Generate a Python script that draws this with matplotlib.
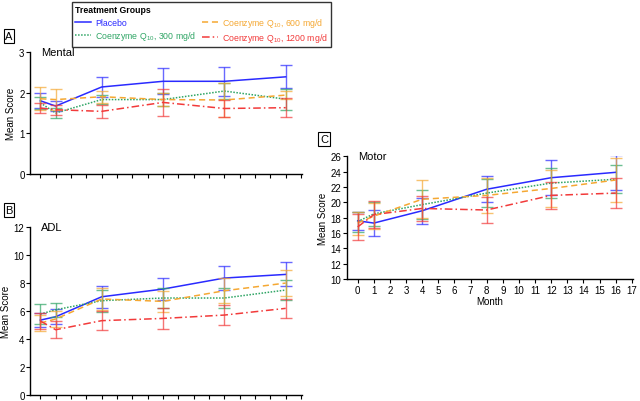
import numpy as np
from matplotlib import pyplot as plt

plt.rcParams['font.family'] = ['Liberation Sans Narrow', 'Liberation Sans', 'DejaVu Sans']
plt.rcParams['mathtext.fontset'] = 'custom'
plt.rcParams['mathtext.rm'] = 'Liberation Sans'
plt.rcParams['mathtext.default'] = 'regular'

months = [0, 1, 4, 8, 12, 16]
groups = ['Placebo', 'Coenzyme Q$_{10}$, 300 mg/d',
          'Coenzyme Q$_{10}$, 600 mg/d', 'Coenzyme Q$_{10}$, 1200 mg/d']
colors = ['#2a2aff', '#2fa565', '#f5a833', '#f23a3a']
styles = ['-', (0, (1, 1)), (0, (4, 2.5)), (0, (5, 2, 1, 2))]

# mean scores (placebo, 300, 600, 1200)
mental = [[1.80, 1.67, 2.14, 2.28, 2.28, 2.39],
          [1.75, 1.50, 1.83, 1.83, 2.04, 1.84],
          [1.85, 1.83, 1.90, 1.83, 1.82, 1.94],
          [1.62, 1.58, 1.54, 1.76, 1.61, 1.63]]
mental_err = [[0.18, 0.13, 0.24, 0.32, 0.36, 0.28],
              [0.15, 0.12, 0.12, 0.15, 0.20, 0.26],
              [0.28, 0.25, 0.15, 0.17, 0.42, 0.10],
              [0.13, 0.12, 0.16, 0.33, 0.20, 0.24]]

adl = [[5.36, 5.60, 7.03, 7.58, 8.37, 8.63],
       [5.79, 6.10, 6.75, 6.94, 6.94, 7.51],
       [5.15, 5.44, 6.87, 6.70, 7.46, 8.01],
       [5.30, 4.67, 5.32, 5.48, 5.72, 6.20]]
adl_err = [[0.50, 0.55, 0.80, 0.76, 0.88, 0.86],
           [0.70, 0.50, 0.80, 0.70, 0.75, 0.70],
           [0.55, 0.60, 0.80, 0.75, 0.90, 0.93],
           [0.60, 0.60, 0.67, 0.76, 0.70, 0.70]]

motor = [[17.6, 17.3, 18.9, 21.7, 23.2, 23.9],
         [17.5, 18.5, 19.7, 21.2, 22.5, 23.0],
         [17.3, 18.2, 20.4, 20.9, 21.8, 22.9],
         [16.8, 18.4, 19.2, 19.0, 20.9, 21.2]]
motor_err = [[1.2, 1.65, 1.7, 1.7, 2.3, 2.3],
             [1.3, 1.6, 1.9, 1.8, 2.0, 1.8],
             [1.5, 1.7, 2.5, 2.3, 2.4, 2.8],
             [1.7, 1.8, 1.6, 1.7, 1.8, 1.9]]

fig = plt.figure(figsize=(6.4, 4.02), dpi=100)
axA = fig.add_axes([0.047, 0.565, 0.425, 0.303])
axB = fig.add_axes([0.047, 0.015, 0.425, 0.417])
axC = fig.add_axes([0.542, 0.303, 0.447, 0.306])


def panel(ax, data, err, ylim, yticks, title):
    for i in range(4):
        ax.errorbar(months, data[i], yerr=err[i], color=colors[i], ecolor=colors[i],
                    elinewidth=1, capsize=4, capthick=1, alpha=0.7, lw=0)
        ax.plot(months, data[i], color=colors[i], ls=styles[i], lw=1.1, label=groups[i])
    ax.set_xlim(-0.67, 17.07)
    ax.set_ylim(*ylim)
    ax.set_xticks(range(18))
    ax.set_yticks(yticks)
    for s in ['top', 'right']:
        ax.spines[s].set_visible(False)
    for s in ['left', 'bottom']:
        ax.spines[s].set_linewidth(1)
    ax.tick_params(labelsize=7, length=3, width=0.8, pad=1)
    ax.set_ylabel('Mean Score', fontsize=7, labelpad=2)
    ax.text(0.04, 1.0, title, transform=ax.transAxes, fontsize=8, va='center')
    ax.patch.set_alpha(0)


panel(axA, mental, mental_err, (0, 3), [0, 1, 2, 3], 'Mental')
panel(axB, adl, adl_err, (0, 12), range(0, 13, 2), 'ADL')
panel(axC, motor, motor_err, (10, 26), range(10, 27, 2), 'Motor')
axA.tick_params(axis='x', labelbottom=False)
axB.tick_params(axis='x', labelbottom=False)
axC.set_xlabel('Month', fontsize=7, labelpad=1)

box = dict(boxstyle='square,pad=0.15', fc='white', ec='black', lw=0.8)
fig.text(9 / 640, 1 - 37 / 402, 'A', fontsize=8, ha='center', va='center', bbox=box)
fig.text(9 / 640, 1 - 211 / 402, 'B', fontsize=8, ha='center', va='center', bbox=box)
fig.text(324 / 640, 1 - 140 / 402, 'C', fontsize=8, ha='center', va='center', bbox=box)

h, l = axA.get_legend_handles_labels()
leg = fig.legend(h, l, ncol=2,
                 loc='upper left', bbox_to_anchor=(0.1125, 0.992),
                 title='Treatment Groups', fontsize=6.3, title_fontsize=6.3,
                 frameon=True, fancybox=False, edgecolor='black',
                 handlelength=1.8, columnspacing=0.7, handletextpad=0.5,
                 borderpad=0.35, labelspacing=0.2, borderaxespad=0)
leg._legend_box.align = 'left'
leg.get_title().set_fontweight('bold')
leg.get_frame().set_linewidth(1)
for t, c in zip(leg.get_texts(), colors):
    t.set_color(c)

fig.savefig('out.png', dpi=100)
